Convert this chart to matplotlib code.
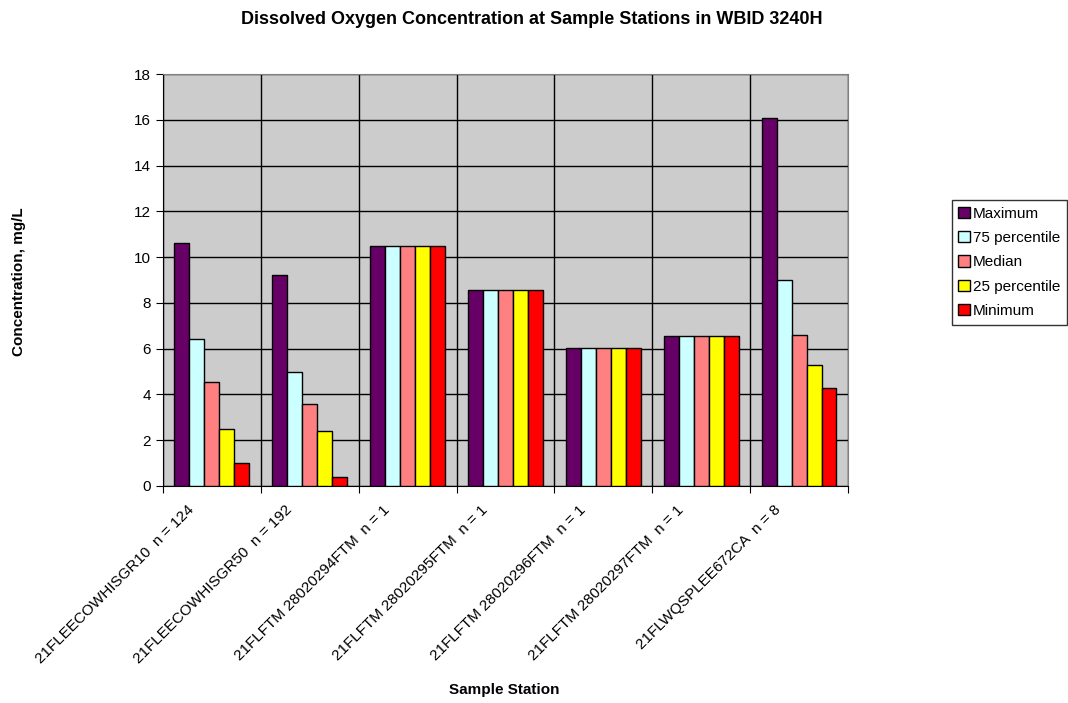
import numpy as np
import matplotlib.pyplot as plt
from matplotlib.transforms import ScaledTranslation

plt.rcParams['font.family'] = ['Liberation Sans', 'DejaVu Sans']

stations = [
    '21FLEECOWHISGR10  n = 124',
    '21FLEECOWHISGR50  n = 192',
    '21FLFTM 28020294FTM  n = 1',
    '21FLFTM 28020295FTM  n = 1',
    '21FLFTM 28020296FTM  n = 1',
    '21FLFTM 28020297FTM  n = 1',
    '21FLWQSPLEE672CA  n = 8',
]

# mg/L
maximum = [10.6, 9.2, 10.5, 8.55, 6.05, 6.55, 16.1]
p75 = [6.42, 5.0, 10.5, 8.55, 6.05, 6.55, 9.0]
median = [4.54, 3.6, 10.5, 8.55, 6.05, 6.55, 6.58]
p25 = [2.49, 2.4, 10.5, 8.55, 6.05, 6.55, 5.3]
minimum = [1.0, 0.4, 10.5, 8.55, 6.05, 6.55, 4.28]

series = [maximum, p75, median, p25, minimum]
names = ['Maximum', '75 percentile', 'Median', '25 percentile', 'Minimum']
colors = ['#660066', '#CCFFFF', '#FF8080', '#FFFF00', '#FF0000']

fig = plt.figure(figsize=(10.68, 7.03), dpi=100)
ax = fig.add_axes([0.1526, 0.3087, 0.6414, 0.586])
ax.set_facecolor('#CCCCCC')

n = len(stations)
x = np.arange(n)
w = 0.153
for i, (vals, nm, c) in enumerate(zip(series, names, colors)):
    ax.bar(x + (i - 2) * w, vals, w, color=c, edgecolor='black',
           linewidth=1, label=nm, zorder=3)

ax.set_xlim(-0.5, n - 0.5)
ax.set_ylim(0, 18)
ax.set_yticks(np.arange(0, 19, 2))
ax.yaxis.grid(True, color='black', linewidth=1, zorder=0)

# category boundaries as major ticks, labels at centres
ax.set_xticks(np.arange(-0.5, n, 1))
ax.set_xticklabels([])
ax.set_xticks(x, minor=True)
ax.set_xticklabels(stations, minor=True, rotation=45, ha='right',
                   rotation_mode='anchor', fontsize=11)
ax.tick_params(axis='x', which='minor', length=0, pad=12)
ax.tick_params(axis='x', which='major', length=5, direction='out')
ax.tick_params(axis='y', length=5, direction='out', labelsize=11)
ax.xaxis.grid(True, which='major', color='black', linewidth=1, zorder=0)
ax.set_axisbelow(True)

shift = ScaledTranslation(-0.25, 0, fig.dpi_scale_trans)
for lbl in ax.get_xticklabels(minor=True):
    lbl.set_transform(lbl.get_transform() + shift)

for s in ['left', 'bottom']:
    ax.spines[s].set_color('black')
for s in ['right', 'top']:
    ax.spines[s].set_color('#808080')

fig.suptitle('Dissolved Oxygen Concentration at Sample Stations in WBID 3240H',
             x=0.498, y=0.985, fontsize=13, fontweight='bold')
fig.text(0.018, 0.6, 'Concentration, mg/L', rotation=90, ha='center',
         va='center', fontsize=11, fontweight='bold')
fig.text(0.472, 0.019, 'Sample Station', ha='center', va='center',
         fontsize=11, fontweight='bold')

leg = fig.legend(loc='upper left', bbox_to_anchor=(0.891, 0.716),
                 fontsize=11, frameon=True, fancybox=False,
                 handlelength=0.75, handleheight=0.75, handletextpad=0.2,
                 borderpad=0.45, labelspacing=0.68, borderaxespad=0)
leg.get_frame().set_edgecolor('black')
leg.get_frame().set_linewidth(1)

fig.savefig('out.png', dpi=100)
